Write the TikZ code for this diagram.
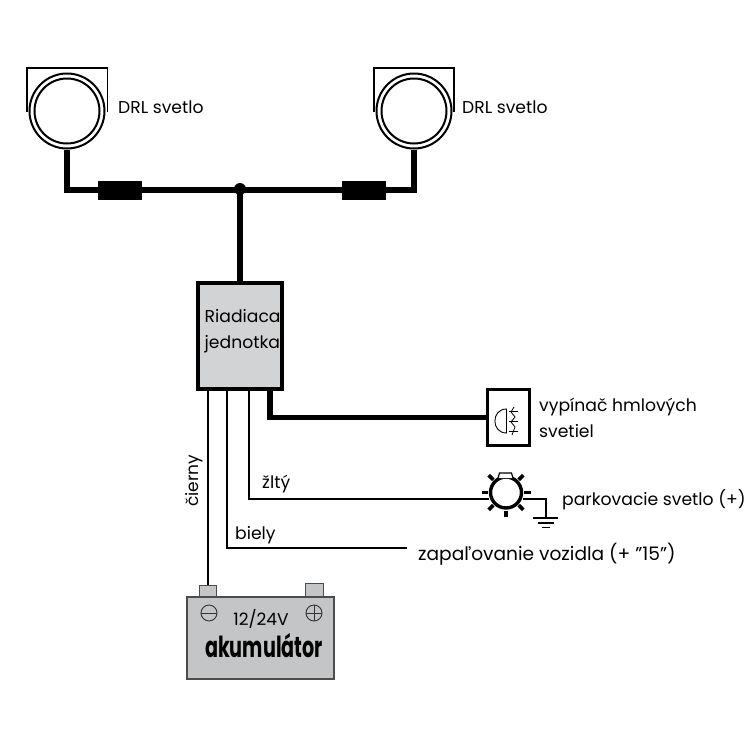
\documentclass[tikz,border=0pt]{standalone}
\usepackage{fontspec}
\setmainfont{Poppins}
\usetikzlibrary{positioning}
\definecolor{boxgray}{HTML}{D2D3D4}
\definecolor{batgray}{HTML}{C4C5C6}
\tikzset{
  lamp/.style={circle,draw,fill=white,line width=2pt,minimum size=75pt,inner sep=0pt},
  lampin/.style={circle,draw,line width=2pt,minimum size=65pt,inner sep=0pt},
  fuse/.style={rectangle,fill=black,minimum width=44pt,minimum height=19pt,inner sep=0pt},
  thick wire/.style={line width=5.2pt},
  thin wire/.style={line width=1.6pt},
  caption/.style={anchor=base west,inner sep=0pt,font=\fontsize{17.2}{18}\selectfont},
  post/.style={rectangle,draw=black!70,fill=batgray,line width=1pt,inner sep=0pt,anchor=south},
  sign/.style={circle,draw=black!80,line width=.9pt,minimum size=16pt,inner sep=0pt}
}
\begin{document}
\begin{tikzpicture}[x=1pt,y=-1pt]
    \useasboundingbox (0,0) rectangle (750,750);

    % lights
    \draw[line width=1.7pt] (27,112) |- (107.5,68) -- (107.5,112);
    \draw[line width=1.7pt] (374,112) |- (454,68) -- (454,112);
    \node[lamp] (lampL) at (67,111) {};
    \node[lampin] at (67,111) {};
    \node[lamp] (lampR) at (414,111) {};
    \node[lampin] at (414,111) {};
    \node[caption] (drlL) at (118,113) {DRL svetlo};
    \node[caption] (drlR) at (462,113) {DRL svetlo};

    % control unit
    \node[rectangle,draw,fill=boxgray,line width=4pt,minimum width=84pt,minimum height=106pt,inner sep=0pt] (ctrl) at (240,336) {};
    \node[caption] (ctrltxt) at (204.5,322) {Riadiaca};
    \node[caption] (ctrltxtb) at (204.5,348) {jednotka};

    % fuses and the T
    \node[fuse] (fuseL) at (120,190) {};
    \node[fuse] (fuseR) at (364,190) {};
    \draw[thick wire] (lampL.south) |- (fuseL.west);
    \draw[thick wire] (lampR.south) |- (fuseR.east);
    \draw[thick wire] (fuseL.east) -- (fuseR.west);
    \node[circle,fill=black,minimum size=12pt,inner sep=0pt] (tee) at (240,189) {};
    \draw[thick wire] (tee.center) -- (ctrl.north);

    \coordinate (outA) at (208,391);
    \coordinate (outB) at (227,391);
    \coordinate (outC) at (249,391);
    \coordinate (outD) at (270,389);

    % fog light switch
    \node[rectangle,draw,fill=white,line width=3.8pt,minimum width=42pt,minimum height=56pt,inner sep=0pt] (sw) at (508.5,417.5) {};
    \draw[thick wire] (outD) |- (sw.west);
    \draw[line width=.9pt] (506.5,409) .. controls (491,409) and (491,433) .. (506.5,433) -- cycle;
    \foreach \yy in {411,421,431} {
        \draw[line width=.8pt] (509,\yy) -- (518,\yy);
    }
    \draw[line width=.8pt] (514,407) -- (511,412) -- (515,417) -- (511,422) -- (515,427) -- (512,435);
    \node[caption] (swtxt) at (539,411) {vypínač hmlových};
    \node[caption] (swtxtb) at (539,437.5) {svetiel};

    % parking light
    \foreach \aa in {0,45,90,135,180,225,315} {
        \draw[line width=3.6pt] (506,492.5) ++(\aa:18) -- ++(\aa:6.5);
    }
    \node[circle,draw,fill=white,line width=3.4pt,minimum size=31pt,inner sep=0pt] (bulb) at (506,492.5) {};
    \draw[line width=1.2pt,fill=white] (498,478) -- (499.5,473) -- (511.5,473) -- (513,478);
    \coordinate (gnd) at (546,518);
    \draw[thin wire] (outC) |- (bulb.west |- 0,499);
    \draw[thin wire] (bulb.east |- 0,499) -| (gnd);
    \draw[line width=1.5pt] (533,518) -- (558,518);
    \draw[line width=1.5pt] (538,523) -- (554,523);
    \draw[line width=1.5pt] (542,527.5) -- (550,527.5);
    \node[caption] (parktxt) at (562,505.5) {parkovacie svetlo (+)};
    \node[caption] (wyellow) at (262,488) {žltý};

    % ignition
    \coordinate (ignend) at (407,548);
    \node[caption,font=\fontsize{18.6}{20}\selectfont] (igntxt) at (418,560.5) {zapaľovanie vozidla (+ ”15”)};
    \draw[thin wire] (outB) |- (ignend);
    \node[caption] (wwhite) at (235,539) {biely};

    % battery
    \node[rectangle,draw=black!70,fill=batgray,line width=1.2pt,minimum width=147pt,minimum height=82pt,inner sep=0pt] (bat) at (260.5,638) {};
    \node[post,minimum width=17pt,minimum height=11pt] (postm) at (207.5,597) {};
    \node[post,minimum width=18pt,minimum height=13pt] (postp) at (314,597) {};
    \draw[thin wire] (outA) -- (postm.north -| outA);
    \node[rotate=90,inner sep=0pt,font=\fontsize{17}{18}\selectfont] (wblack) at (194,481) {čierny};
    \node[sign] (minus) at (209,613) {};
    \draw[line width=.9pt,black!80] (minus.west) -- (minus.east);
    \node[sign] (plus) at (314,613) {};
    \draw[line width=.9pt,black!80] (plus.west) -- (plus.east);
    \draw[line width=.9pt,black!80] (plus.north) -- (plus.south);
    \node[inner sep=0pt,font=\fontsize{17}{18}\selectfont] (batv) at (261,619) {12/24V};
    \node[inner sep=0pt,xscale=.66,font=\fontsize{29}{30}\selectfont\bfseries] (battxt) at (264,646) {akumulátor};
\end{tikzpicture}
\end{document}
